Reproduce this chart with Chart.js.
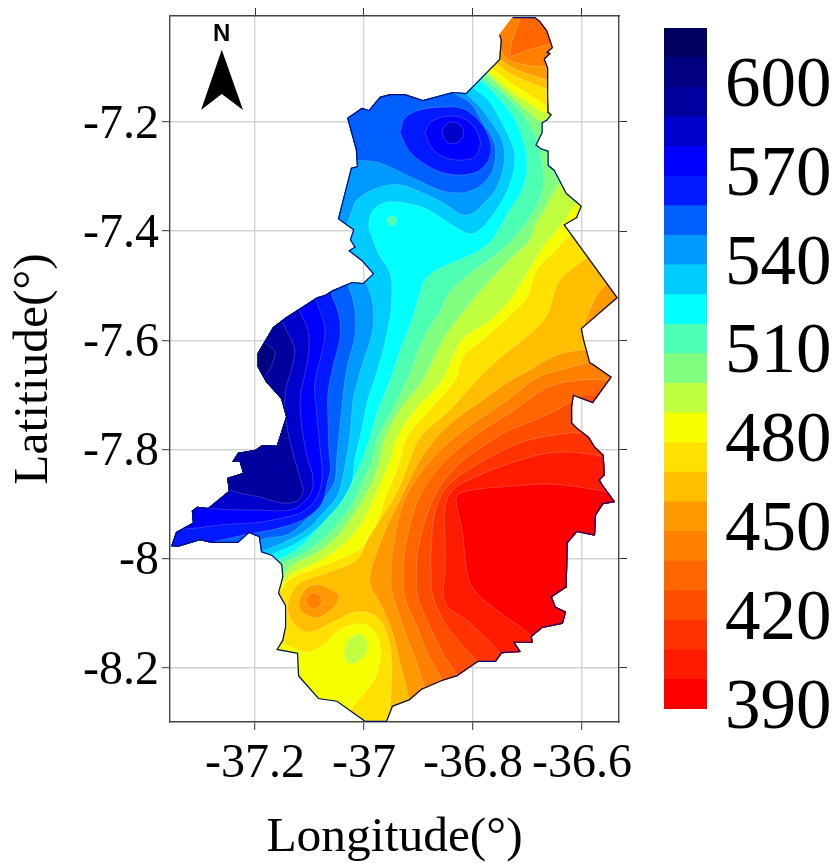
<!DOCTYPE html>
<html>
<head>
<meta charset="utf-8">
<title>Rainfall map</title>
<script src="https://cdn.jsdelivr.net/npm/chart.js@4"></script>
<style>
    html, body { margin: 0; padding: 0; background: #fff; }
    canvas { position: absolute; top: 0; }
    #map_chart { left: 0; }
    #bar_chart { left: 640px; }
</style>
</head>
<body>
<canvas id="map_chart" width="836" height="863"></canvas>
<canvas id="bar_chart" width="196" height="863"></canvas>
<script>
var lon_ticks = [-37.2, -37, -36.8, -36.6];
var lat_ticks = [-7.2, -7.4, -7.6, -7.8, -8, -8.2];
var bar_ticks = [390, 420, 450, 480, 510, 540, 570, 600];
var levels = [390, 400, 410, 420, 430, 440, 450, 460, 470, 480, 490, 500, 510, 520, 530, 540, 550, 560, 570, 580, 590, 600, 610];
var colors = ["#ff0000", "#ff1a00", "#ff3300", "#ff4d00", "#ff6600", "#ff8000", "#ff9900", "#ffbf00", "#ffe100", "#f5ff00", "#bfff40", "#80ff80", "#4dffb3", "#00ffff", "#00ccff", "#0099ff", "#0060ff", "#0019ff", "#0000ff", "#0000cc", "#00009f", "#000080", "#00005f"];

// municipality boundary, [lon, lat]
var outline = [[-36.727,-7.008],[-36.708,-7.008],[-36.686,-7.008],[-36.677,-7.015],[-36.664,-7.032],[-36.653,-7.064],[-36.662,-7.072],[-36.657,-7.074],[-36.668,-7.085],[-36.662,-7.101],[-36.662,-7.154],[-36.661,-7.182],[-36.655,-7.187],[-36.664,-7.198],[-36.672,-7.202],[-36.672,-7.220],[-36.683,-7.242],[-36.675,-7.248],[-36.661,-7.253],[-36.661,-7.279],[-36.650,-7.288],[-36.628,-7.330],[-36.600,-7.354],[-36.609,-7.376],[-36.631,-7.389],[-36.534,-7.522],[-36.600,-7.579],[-36.596,-7.599],[-36.585,-7.640],[-36.580,-7.643],[-36.545,-7.667],[-36.580,-7.715],[-36.615,-7.702],[-36.618,-7.722],[-36.618,-7.751],[-36.609,-7.760],[-36.587,-7.777],[-36.576,-7.795],[-36.560,-7.810],[-36.558,-7.847],[-36.567,-7.856],[-36.563,-7.863],[-36.539,-7.896],[-36.561,-7.900],[-36.574,-7.920],[-36.576,-7.958],[-36.609,-7.951],[-36.626,-7.971],[-36.628,-8.052],[-36.655,-8.070],[-36.648,-8.088],[-36.629,-8.097],[-36.635,-8.119],[-36.673,-8.127],[-36.692,-8.143],[-36.690,-8.154],[-36.723,-8.154],[-36.712,-8.171],[-36.747,-8.173],[-36.758,-8.189],[-36.791,-8.189],[-36.829,-8.215],[-36.857,-8.224],[-36.894,-8.240],[-36.916,-8.259],[-36.947,-8.271],[-36.958,-8.299],[-36.998,-8.299],[-37.050,-8.262],[-37.084,-8.257],[-37.121,-8.215],[-37.123,-8.174],[-37.161,-8.167],[-37.150,-8.149],[-37.145,-8.125],[-37.145,-8.086],[-37.158,-8.063],[-37.150,-8.033],[-37.152,-8.011],[-37.169,-7.995],[-37.189,-7.988],[-37.193,-7.960],[-37.211,-7.953],[-37.231,-7.971],[-37.279,-7.971],[-37.301,-7.966],[-37.341,-7.978],[-37.354,-7.977],[-37.345,-7.951],[-37.314,-7.934],[-37.316,-7.912],[-37.306,-7.905],[-37.286,-7.907],[-37.248,-7.876],[-37.251,-7.852],[-37.222,-7.843],[-37.228,-7.823],[-37.242,-7.823],[-37.231,-7.806],[-37.200,-7.801],[-37.187,-7.792],[-37.160,-7.793],[-37.143,-7.740],[-37.152,-7.707],[-37.180,-7.676],[-37.195,-7.649],[-37.195,-7.623],[-37.167,-7.576],[-37.145,-7.559],[-37.086,-7.521],[-37.072,-7.517],[-37.057,-7.508],[-37.022,-7.493],[-37.002,-7.495],[-36.984,-7.478],[-37.004,-7.455],[-37.029,-7.436],[-37.018,-7.429],[-37.026,-7.416],[-37.020,-7.398],[-37.048,-7.378],[-37.024,-7.284],[-37.013,-7.281],[-37.015,-7.251],[-37.031,-7.193],[-37.004,-7.174],[-36.991,-7.178],[-36.971,-7.154],[-36.952,-7.149],[-36.925,-7.149],[-36.892,-7.160],[-36.837,-7.145],[-36.813,-7.147],[-36.752,-7.085],[-36.749,-7.050],[-36.752,-7.041]];
var north_arrow = [[-37.261,-7.068],[-37.222,-7.178],[-37.261,-7.149],[-37.299,-7.178]];

// contours on the high side (value above the level)
var high530 = [[-36.815,-7.119],[-36.802,-7.136],[-36.772,-7.160],[-36.745,-7.205],[-36.725,-7.251],[-36.725,-7.288],[-36.741,-7.334],[-36.761,-7.367],[-36.783,-7.394],[-36.805,-7.405],[-36.833,-7.392],[-36.888,-7.358],[-36.934,-7.347],[-36.958,-7.347],[-36.983,-7.361],[-36.991,-7.392],[-36.983,-7.416],[-36.974,-7.440],[-36.952,-7.477],[-36.949,-7.517],[-36.952,-7.557],[-36.965,-7.618],[-36.982,-7.676],[-36.993,-7.709],[-37.007,-7.777],[-37.017,-7.819],[-37.022,-7.859],[-37.035,-7.887],[-37.059,-7.920],[-37.094,-7.951],[-37.130,-7.975],[-37.172,-7.993],[-37.195,-8.002],[-37.45,-8.0],[-37.45,-7.05],[-36.815,-7.05]];
var north540 = [[-36.822,-7.132],[-36.813,-7.147],[-36.787,-7.173],[-36.760,-7.209],[-36.745,-7.238],[-36.743,-7.275],[-36.756,-7.319],[-36.778,-7.347],[-36.800,-7.367],[-36.820,-7.370],[-36.855,-7.348],[-36.897,-7.328],[-36.934,-7.315],[-36.971,-7.319],[-37.013,-7.343],[-37.026,-7.374],[-37.044,-7.407],[-37.2,-7.41],[-37.2,-7.05],[-36.822,-7.05]];
var west540 = [[-37.007,-7.486],[-36.994,-7.499],[-36.983,-7.539],[-36.985,-7.586],[-37.002,-7.641],[-37.011,-7.673],[-37.020,-7.709],[-37.026,-7.777],[-37.033,-7.819],[-37.040,-7.856],[-37.050,-7.887],[-37.075,-7.916],[-37.105,-7.947],[-37.149,-7.971],[-37.187,-7.986],[-37.209,-7.993],[-37.45,-7.993],[-37.45,-7.47],[-37.007,-7.47]];
var north550 = [[-36.842,-7.132],[-36.837,-7.145],[-36.805,-7.165],[-36.783,-7.200],[-36.761,-7.238],[-36.760,-7.275],[-36.772,-7.303],[-36.796,-7.323],[-36.824,-7.330],[-36.861,-7.325],[-36.903,-7.306],[-36.971,-7.275],[-37.013,-7.270],[-37.044,-7.266],[-37.2,-7.27],[-37.2,-7.05],[-36.842,-7.05]];
var west550 = [[-37.033,-7.486],[-37.029,-7.499],[-37.017,-7.539],[-37.017,-7.594],[-37.029,-7.641],[-37.035,-7.673],[-37.039,-7.709],[-37.046,-7.777],[-37.050,-7.819],[-37.053,-7.856],[-37.062,-7.874],[-37.086,-7.905],[-37.112,-7.934],[-37.141,-7.956],[-37.191,-7.966],[-37.209,-7.988],[-37.45,-7.988],[-37.45,-7.47],[-37.033,-7.47]];
var north560 = [[-36.934,-7.220],[-36.925,-7.193],[-36.897,-7.178],[-36.855,-7.173],[-36.818,-7.176],[-36.787,-7.200],[-36.769,-7.233],[-36.769,-7.264],[-36.787,-7.288],[-36.818,-7.297],[-36.855,-7.293],[-36.892,-7.275],[-36.919,-7.251],[-36.934,-7.220]];
var west560 = [[-37.062,-7.499],[-37.059,-7.517],[-37.046,-7.553],[-37.044,-7.594],[-37.057,-7.649],[-37.066,-7.696],[-37.066,-7.746],[-37.064,-7.806],[-37.061,-7.837],[-37.066,-7.856],[-37.077,-7.898],[-37.105,-7.925],[-37.149,-7.942],[-37.191,-7.951],[-37.237,-7.960],[-37.283,-7.973],[-37.301,-7.993],[-37.45,-7.993],[-37.45,-7.47],[-37.062,-7.47]];
var north570 = [[-36.888,-7.220],[-36.879,-7.202],[-36.855,-7.191],[-36.824,-7.191],[-36.802,-7.205],[-36.787,-7.233],[-36.791,-7.257],[-36.805,-7.268],[-36.842,-7.268],[-36.873,-7.251],[-36.888,-7.220]];
var west570 = [[-37.095,-7.508],[-37.090,-7.522],[-37.072,-7.575],[-37.075,-7.612],[-37.090,-7.678],[-37.088,-7.722],[-37.081,-7.795],[-37.077,-7.850],[-37.086,-7.887],[-37.112,-7.914],[-37.149,-7.925],[-37.191,-7.933],[-37.264,-7.938],[-37.328,-7.945],[-37.352,-7.938],[-37.45,-7.93],[-37.45,-7.47],[-37.095,-7.47]];
var north580 = [[-36.857,-7.220],[-36.851,-7.206],[-36.837,-7.200],[-36.823,-7.206],[-36.817,-7.220],[-36.823,-7.234],[-36.837,-7.240],[-36.851,-7.234],[-36.857,-7.220]];
var west580 = [[-37.123,-7.535],[-37.119,-7.544],[-37.103,-7.581],[-37.101,-7.618],[-37.108,-7.660],[-37.117,-7.704],[-37.114,-7.759],[-37.103,-7.819],[-37.095,-7.843],[-37.095,-7.874],[-37.112,-7.898],[-37.136,-7.911],[-37.191,-7.911],[-37.286,-7.907],[-37.319,-7.892],[-37.45,-7.89],[-37.45,-7.47],[-37.123,-7.47]];
var west590 = [[-37.154,-7.548],[-37.149,-7.568],[-37.128,-7.612],[-37.130,-7.641],[-37.145,-7.700],[-37.141,-7.759],[-37.127,-7.819],[-37.116,-7.856],[-37.112,-7.878],[-37.123,-7.894],[-37.149,-7.898],[-37.191,-7.887],[-37.248,-7.874],[-37.273,-7.856],[-37.45,-7.85],[-37.45,-7.47],[-37.154,-7.47]];
var west600 = [[-37.180,-7.605],[-37.163,-7.623],[-37.184,-7.667],[-37.209,-7.667],[-37.209,-7.605],[-37.180,-7.605]];

// contours on the low side (value below the level)
var low520 = [[-36.805,-7.108],[-36.787,-7.123],[-36.763,-7.145],[-36.728,-7.187],[-36.708,-7.233],[-36.701,-7.282],[-36.710,-7.325],[-36.736,-7.367],[-36.765,-7.416],[-36.793,-7.438],[-36.848,-7.462],[-36.884,-7.484],[-36.897,-7.513],[-36.912,-7.563],[-36.934,-7.618],[-36.952,-7.673],[-36.974,-7.727],[-36.989,-7.777],[-37.004,-7.819],[-37.017,-7.850],[-37.039,-7.892],[-37.075,-7.934],[-37.117,-7.978],[-37.158,-8.002],[-37.187,-8.011],[-37.21,-8.44],[-36.42,-8.44],[-36.42,-7.05],[-36.805,-7.05]];
var isle520 = [[-36.958,-7.381],[-36.955,-7.374],[-36.949,-7.372],[-36.943,-7.374],[-36.940,-7.381],[-36.943,-7.388],[-36.949,-7.390],[-36.955,-7.388],[-36.958,-7.381]];
var low510 = [[-36.791,-7.108],[-36.782,-7.118],[-36.745,-7.147],[-36.708,-7.187],[-36.683,-7.233],[-36.672,-7.282],[-36.672,-7.325],[-36.690,-7.367],[-36.728,-7.416],[-36.763,-7.447],[-36.805,-7.477],[-36.842,-7.511],[-36.861,-7.548],[-36.892,-7.599],[-36.921,-7.673],[-36.947,-7.727],[-36.974,-7.777],[-36.985,-7.819],[-37.002,-7.859],[-37.026,-7.907],[-37.062,-7.951],[-37.108,-7.989],[-37.152,-8.008],[-37.176,-8.021],[-37.21,-8.44],[-36.42,-8.44],[-36.42,-7.05],[-36.791,-7.05]];
var low500 = [[-36.631,-7.297],[-36.650,-7.325],[-36.668,-7.361],[-36.686,-7.389],[-36.695,-7.416],[-36.727,-7.447],[-36.763,-7.484],[-36.805,-7.532],[-36.855,-7.599],[-36.892,-7.673],[-36.934,-7.727],[-36.961,-7.777],[-36.971,-7.819],[-36.983,-7.856],[-37.002,-7.892],[-37.026,-7.929],[-37.050,-7.960],[-37.086,-7.989],[-37.130,-8.011],[-37.149,-8.030],[-37.176,-8.042],[-37.21,-8.44],[-36.42,-8.44],[-36.42,-7.30]];
var tip500 = [[-36.791,-7.101],[-36.774,-7.112],[-36.738,-7.147],[-36.701,-7.178],[-36.672,-7.202],[-36.644,-7.211],[-36.58,-7.211],[-36.58,-6.97],[-36.79,-6.97]];
var low490 = [[-36.594,-7.334],[-36.613,-7.352],[-36.631,-7.380],[-36.653,-7.407],[-36.672,-7.429],[-36.708,-7.489],[-36.732,-7.526],[-36.769,-7.563],[-36.820,-7.599],[-36.857,-7.673],[-36.906,-7.727],[-36.939,-7.777],[-36.952,-7.819],[-36.967,-7.856],[-36.983,-7.892],[-37.004,-7.934],[-37.035,-7.971],[-37.086,-8.006],[-37.130,-8.026],[-37.150,-8.044],[-37.176,-8.057],[-37.21,-8.44],[-36.42,-8.44],[-36.42,-7.33]];
var tip490 = [[-36.79,-7.10],[-36.772,-7.108],[-36.736,-7.138],[-36.699,-7.165],[-36.662,-7.187],[-36.640,-7.196],[-36.58,-7.196],[-36.58,-6.97],[-36.79,-6.97]];
var low480 = [[-36.594,-7.394],[-36.613,-7.403],[-36.631,-7.416],[-36.653,-7.440],[-36.683,-7.471],[-36.701,-7.521],[-36.727,-7.550],[-36.782,-7.599],[-36.818,-7.630],[-36.833,-7.673],[-36.879,-7.727],[-36.921,-7.777],[-36.934,-7.819],[-36.947,-7.856],[-36.960,-7.887],[-36.976,-7.934],[-37.002,-7.978],[-37.026,-7.993],[-37.086,-8.017],[-37.117,-8.028],[-37.141,-8.042],[-37.158,-8.063],[-37.200,-8.075],[-37.200,-8.149],[-37.154,-8.154],[-37.130,-8.163],[-37.105,-8.171],[-37.075,-8.158],[-37.044,-8.130],[-37.013,-8.119],[-36.989,-8.125],[-36.971,-8.154],[-36.974,-8.204],[-36.994,-8.240],[-37.020,-8.271],[-37.035,-8.295],[-37.03,-8.44],[-36.42,-8.44],[-36.42,-7.34]];
var tip480 = [[-36.78,-7.09],[-36.765,-7.101],[-36.732,-7.127],[-36.695,-7.151],[-36.661,-7.173],[-36.640,-7.182],[-36.58,-7.182],[-36.58,-6.97],[-36.78,-6.97]];
var low470 = [[-36.585,-7.444],[-36.640,-7.489],[-36.653,-7.521],[-36.664,-7.553],[-36.683,-7.577],[-36.708,-7.599],[-36.750,-7.632],[-36.793,-7.673],[-36.842,-7.727],[-36.897,-7.777],[-36.916,-7.819],[-36.928,-7.852],[-36.947,-7.892],[-36.971,-7.929],[-36.994,-7.966],[-37.013,-8.002],[-37.068,-8.026],[-37.117,-8.044],[-37.136,-8.070],[-37.139,-8.099],[-37.123,-8.125],[-37.099,-8.134],[-37.057,-8.116],[-37.013,-8.097],[-36.976,-8.107],[-36.956,-8.143],[-36.949,-8.198],[-36.952,-8.271],[-36.956,-8.314],[-36.95,-8.44],[-36.42,-8.44],[-36.42,-7.44]];
var tip470 = [[-36.78,-7.08],[-36.758,-7.092],[-36.727,-7.114],[-36.692,-7.129],[-36.662,-7.141],[-36.640,-7.151],[-36.58,-7.151],[-36.58,-6.97],[-36.78,-6.97]];
var low460 = [[-36.582,-7.618],[-36.604,-7.618],[-36.646,-7.627],[-36.695,-7.654],[-36.738,-7.678],[-36.787,-7.713],[-36.833,-7.746],[-36.866,-7.777],[-36.897,-7.819],[-36.928,-7.880],[-36.958,-7.942],[-36.983,-8.008],[-36.989,-8.044],[-36.971,-8.081],[-36.949,-8.130],[-36.934,-8.191],[-36.919,-8.249],[-36.916,-8.273],[-36.9,-8.44],[-36.42,-8.44],[-36.42,-7.618]];
var east460 = [[-36.545,-7.484],[-36.554,-7.495],[-36.572,-7.517],[-36.589,-7.553],[-36.598,-7.577],[-36.604,-7.585],[-36.47,-7.6],[-36.47,-7.48]];
var ring460 = [[-37.121,-8.081],[-37.105,-8.053],[-37.081,-8.048],[-37.053,-8.061],[-37.046,-8.070],[-37.057,-8.090],[-37.086,-8.108],[-37.114,-8.097],[-37.121,-8.081]];
var tip460 = [[-36.78,-7.07],[-36.754,-7.081],[-36.727,-7.101],[-36.692,-7.114],[-36.662,-7.123],[-36.640,-7.130],[-36.58,-7.130],[-36.58,-6.97],[-36.78,-6.97]];
var low450 = [[-36.567,-7.636],[-36.628,-7.651],[-36.683,-7.669],[-36.732,-7.706],[-36.833,-7.777],[-36.892,-7.837],[-36.928,-7.898],[-36.947,-7.984],[-36.950,-8.021],[-36.949,-8.057],[-36.928,-8.125],[-36.910,-8.173],[-36.888,-8.235],[-36.883,-8.251],[-36.87,-8.44],[-36.42,-8.44],[-36.42,-7.636]];
var spot450 = [[-37.107,-8.077],[-37.102,-8.067],[-37.092,-8.062],[-37.082,-8.067],[-37.077,-8.077],[-37.082,-8.087],[-37.092,-8.092],[-37.102,-8.087],[-37.107,-8.077]];
var tip450 = [[-36.77,-7.04],[-36.750,-7.068],[-36.736,-7.086],[-36.701,-7.096],[-36.662,-7.099],[-36.640,-7.101],[-36.58,-7.101],[-36.58,-6.97],[-36.77,-6.97]];
var low440 = [[-36.549,-7.673],[-36.604,-7.673],[-36.664,-7.687],[-36.732,-7.733],[-36.800,-7.777],[-36.866,-7.837],[-36.903,-7.898],[-36.925,-7.984],[-36.927,-8.030],[-36.925,-8.070],[-36.903,-8.125],[-36.883,-8.173],[-36.857,-8.222],[-36.851,-8.237],[-36.84,-8.44],[-36.42,-8.44],[-36.42,-7.673]];
var tip440 = [[-36.708,-6.995],[-36.732,-7.077],[-36.699,-7.068],[-36.664,-7.059],[-36.631,-7.050],[-36.58,-7.05],[-36.58,-6.97],[-36.708,-6.97]];
var low430 = [[-36.600,-7.702],[-36.640,-7.724],[-36.677,-7.742],[-36.732,-7.764],[-36.756,-7.777],[-36.837,-7.837],[-36.879,-7.905],[-36.901,-7.984],[-36.903,-8.021],[-36.901,-8.070],[-36.879,-8.125],[-36.855,-8.173],[-36.828,-8.215],[-36.820,-8.229],[-36.8,-8.44],[-36.42,-8.44],[-36.42,-7.70]];
var low420 = [[-36.600,-7.770],[-36.628,-7.770],[-36.695,-7.782],[-36.732,-7.795],[-36.800,-7.832],[-36.848,-7.869],[-36.870,-7.916],[-36.877,-7.984],[-36.877,-8.021],[-36.875,-8.063],[-36.855,-8.112],[-36.824,-8.154],[-36.791,-8.189],[-36.783,-8.207],[-36.78,-8.44],[-36.42,-8.44],[-36.42,-7.77]];
var low410 = [[-36.549,-7.815],[-36.604,-7.806],[-36.659,-7.806],[-36.732,-7.825],[-36.800,-7.852],[-36.837,-7.874],[-36.851,-7.905],[-36.851,-7.984],[-36.851,-8.021],[-36.851,-8.081],[-36.805,-8.118],[-36.750,-8.173],[-36.739,-8.189],[-36.74,-8.44],[-36.42,-8.44],[-36.42,-7.815]];
var low400 = [[-36.549,-7.878],[-36.604,-7.869],[-36.664,-7.863],[-36.727,-7.867],[-36.787,-7.872],[-36.824,-7.880],[-36.831,-7.892],[-36.820,-7.947],[-36.809,-8.033],[-36.793,-8.063],[-36.756,-8.094],[-36.692,-8.141],[-36.677,-8.158],[-36.5,-8.3],[-36.42,-7.878]];
var isle500 = [[-37.037,-8.173],[-37.029,-8.149],[-37.007,-8.138],[-36.994,-8.154],[-36.998,-8.176],[-37.017,-8.191],[-37.031,-8.189],[-37.037,-8.173]];

function to_points(list) {
    return list.map(function (p) {
        return { x: p[0], y: p[1] };
    });
}

function band_color(level) {
    return colors[levels.indexOf(level)];
}

function area_dataset(list, color, tension) {
    return {
        data: to_points(list),
        showLine: true,
        fill: "shape",
        backgroundColor: color,
        borderColor: "rgba(255,255,255,0.28)",
        borderWidth: 0.7,
        pointRadius: 0,
        tension: tension
    };
}

// paint order, first one is at the back; a band colour is named by its lower level
var layers = [
    [high530, 530], [north540, 540], [west540, 540], [north550, 550], [west550, 550],
    [north560, 560], [west560, 560], [north570, 570], [west570, 570], [north580, 580],
    [west580, 580], [west590, 590], [west600, 600],
    [low520, 510], [isle520, 510], [low510, 500], [low500, 490], [tip500, 490],
    [low490, 480], [tip490, 480], [low480, 470], [tip480, 470], [low470, 460], [tip470, 460],
    [low460, 450], [east460, 450], [ring460, 450], [tip460, 450],
    [low450, 440], [spot450, 440], [tip450, 440], [low440, 430], [tip440, 430],
    [low430, 420], [low420, 410], [low410, 400], [low400, 390], [isle500, 490]
];

function create_map_chart() {
    var serif = "'Liberation Serif'";
    var datasets = [area_dataset(outline, band_color(520), 0)];
    datasets[0].borderWidth = 0;
    layers.forEach(function (layer) {
        datasets.push(area_dataset(layer[0], band_color(layer[1]), 0.35));
    });
    var edge = area_dataset(outline, "transparent", 0);
    edge.fill = false;
    edge.borderColor = "#000a78";
    edge.borderWidth = 2.4;
    datasets.push(edge);
    // datasets are painted from the highest order down
    datasets.forEach(function (d, i) {
        d.order = datasets.length - i;
    });

    function trace(ctx, x, y, list) {
        list.forEach(function (p, i) {
            var px = x.getPixelForValue(p[0]);
            var py = y.getPixelForValue(p[1]);
            if (i === 0) {
                ctx.moveTo(px, py);
            } else {
                ctx.lineTo(px, py);
            }
        });
        ctx.closePath();
    }

    var clip_to_map = {
        id: "clip_to_map",
        beforeDatasetsDraw: function (chart) {
            var ctx = chart.ctx;
            ctx.save();
            ctx.beginPath();
            trace(ctx, chart.scales.x, chart.scales.y, outline);
            ctx.clip();
        },
        afterDatasetsDraw: function (chart) {
            var ctx = chart.ctx;
            ctx.restore();
            ctx.save();
            ctx.fillStyle = "#000";
            ctx.beginPath();
            trace(ctx, chart.scales.x, chart.scales.y, north_arrow);
            ctx.fill();
            ctx.font = "bold 24px 'Liberation Sans'";
            ctx.textAlign = "center";
            ctx.textBaseline = "middle";
            ctx.fillText("N", chart.scales.x.getPixelForValue(-37.261), chart.scales.y.getPixelForValue(-7.04));
            ctx.restore();
        }
    };

    function pin(size) {
        return function (s) {
            if (s.isHorizontal()) {
                s.height = size;
            } else {
                s.width = size;
            }
            s.paddingLeft = s.paddingRight = s.paddingTop = s.paddingBottom = 0;
        };
    }

    function set_ticks(values) {
        return function (s) {
            s.ticks = values.map(function (v) {
                return { value: v };
            });
        };
    }

    var tick_font = { family: serif, size: 48, lineHeight: 1 };
    var title_font = { family: serif, size: 49.5 };
    var x_range = { min: -37.356, max: -36.532 };
    var y_range = { min: -8.299, max: -7.006 };
    var grid = { color: "#d2d2d2", lineWidth: 1.4, tickColor: "#333", tickWidth: 1, tickLength: 8 };
    var side_grid = { drawOnChartArea: false, tickColor: "#333", tickWidth: 1, tickLength: 8 };
    var border = { color: "#444", width: 1.4 };

    new Chart(document.getElementById("map_chart"), {
        type: "scatter",
        data: { datasets: datasets },
        plugins: [clip_to_map],
        options: {
            responsive: false,
            animation: false,
            events: [],
            elements: { line: { capBezierPoints: false } },
            plugins: { legend: { display: false }, tooltip: { enabled: false } },
            scales: {
                x: {
                    type: "linear", position: "bottom", min: x_range.min, max: x_range.max,
                    grid: grid, border: border, afterFit: pin(141), afterBuildTicks: set_ticks(lon_ticks),
                    ticks: { font: tick_font, color: "#000", padding: 10, maxRotation: 0, autoSkip: false,
                        callback: function (v) { return String(v); } },
                    title: { display: true, text: "Longitude(°)", color: "#000", font: title_font, padding: { top: 0, bottom: -5 } }
                },
                y: {
                    type: "linear", position: "left", min: y_range.min, max: y_range.max,
                    grid: grid, border: border, afterFit: pin(170), afterBuildTicks: set_ticks(lat_ticks),
                    ticks: { font: tick_font, color: "#000", padding: 3, labelOffset: 3, autoSkip: false,
                        callback: function (v) { return String(v); } },
                    title: { display: true, text: "Latitiude(°)", color: "#000", font: title_font, padding: { top: 4, bottom: 0 } }
                },
                x_top: {
                    type: "linear", axis: "x", position: "top", min: x_range.min, max: x_range.max,
                    grid: side_grid, border: border, afterFit: pin(16), afterBuildTicks: set_ticks(lon_ticks),
                    ticks: { display: false, autoSkip: false }
                },
                y_right: {
                    type: "linear", axis: "y", position: "right", min: y_range.min, max: y_range.max,
                    grid: side_grid, border: border, afterFit: pin(217), afterBuildTicks: set_ticks(lat_ticks),
                    ticks: { display: false, autoSkip: false }
                }
            }
        }
    });
}

function create_bar_chart() {
    var datasets = levels.map(function (level, i) {
        return {
            data: [[level, level + 10]],
            backgroundColor: colors[i],
            borderWidth: 0,
            barPercentage: 1,
            categoryPercentage: 1,
            grouped: false
        };
    });
    new Chart(document.getElementById("bar_chart"), {
        type: "bar",
        data: { labels: [""], datasets: datasets },
        options: {
            responsive: false,
            animation: false,
            events: [],
            layout: { padding: { left: 24, top: 28, bottom: 154 } },
            plugins: { legend: { display: false }, tooltip: { enabled: false } },
            scales: {
                x: { display: false },
                y: {
                    position: "right", min: 390, max: 620,
                    grid: { display: false }, border: { display: false },
                    afterFit: function (s) {
                        s.width = 129;
                        s.paddingTop = s.paddingBottom = 0;
                    },
                    afterBuildTicks: function (s) {
                        s.ticks = bar_ticks.map(function (v) {
                            return { value: v };
                        });
                    },
                    ticks: { font: { family: "'Liberation Serif'", size: 71, lineHeight: 1 }, color: "#000", padding: 10, autoSkip: false }
                }
            }
        }
    });
}

create_map_chart();
create_bar_chart();
</script>
</body>
</html>
